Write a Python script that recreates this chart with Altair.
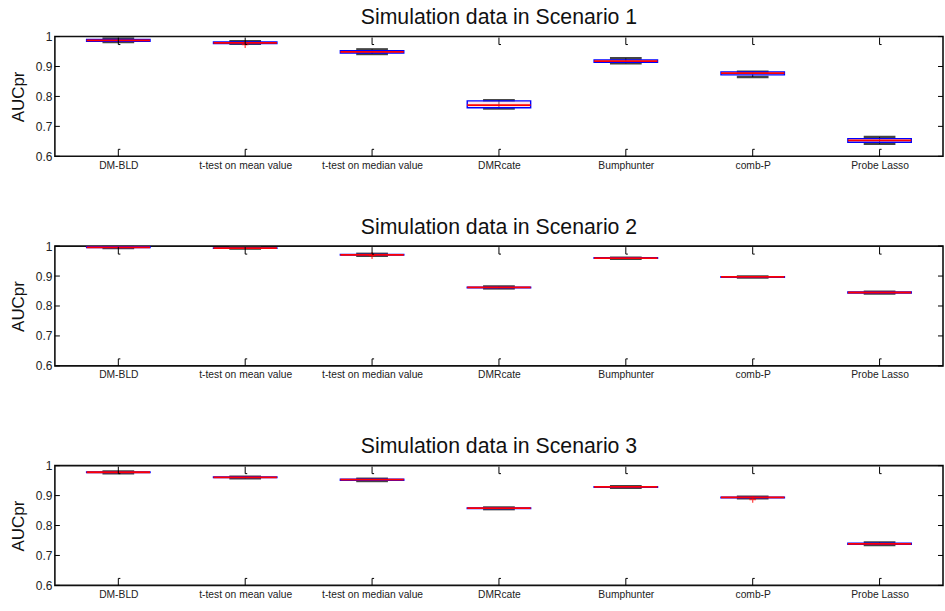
import altair as alt
import pandas as pd

methods = ["DM-BLD", "t-test on mean value", "t-test on median value", "DMRcate",
           "Bumphunter", "comb-P", "Probe Lasso"]
scenarios = ["Simulation data in Scenario 1", "Simulation data in Scenario 2",
             "Simulation data in Scenario 3"]

# Scenario 1
s1_med = [0.987, 0.979, 0.949, 0.771, 0.918, 0.878, 0.653]
s1_q1 = [0.984, 0.977, 0.945, 0.762, 0.914, 0.872, 0.647]
s1_q3 = [0.990, 0.982, 0.953, 0.785, 0.922, 0.882, 0.659]
s1_lo = [0.982, 0.976, 0.942, 0.760, 0.911, 0.865, 0.642]
s1_hi = [0.993, 0.984, 0.957, 0.787, 0.927, 0.882, 0.664]
# Scenario 2
s2_med = [0.996, 0.993, 0.971, 0.862, 0.960, 0.897, 0.845]
s2_q1 = [0.995, 0.993, 0.970, 0.861, 0.959, 0.896, 0.843]
s2_q3 = [0.998, 0.994, 0.972, 0.863, 0.961, 0.898, 0.847]
s2_lo = [0.994, 0.992, 0.968, 0.859, 0.958, 0.895, 0.842]
s2_hi = [0.998, 0.994, 0.974, 0.865, 0.961, 0.898, 0.847]
# Scenario 3
s3_med = [0.978, 0.961, 0.953, 0.858, 0.929, 0.894, 0.739]
s3_q1 = [0.977, 0.960, 0.951, 0.857, 0.928, 0.893, 0.737]
s3_q3 = [0.979, 0.962, 0.955, 0.859, 0.930, 0.895, 0.741]
s3_lo = [0.975, 0.958, 0.949, 0.855, 0.926, 0.891, 0.735]
s3_hi = [0.980, 0.963, 0.956, 0.860, 0.931, 0.896, 0.743]

# outliers: (scenario index, method index, value)
out_scn = [0, 1, 2]
out_idx = [1, 2, 5]
out_val = [0.973, 0.968, 0.887]

y_ticks = [0.6, 0.7, 0.8, 0.9, 1.0]

stats = [
    (s1_med, s1_q1, s1_q3, s1_lo, s1_hi),
    (s2_med, s2_q1, s2_q3, s2_lo, s2_hi),
    (s3_med, s3_q1, s3_q3, s3_lo, s3_hi),
]

rows = []
for si, (med, q1, q3, lo, hi) in enumerate(stats):
    for i, m in enumerate(methods):
        rows.append(dict(scn=si, idx=i, method=m, med=med[i], q1=q1[i], q3=q3[i],
                         lo=lo[i], hi=hi[i]))
box_df = pd.DataFrame(rows)
out_df = pd.DataFrame(dict(scn=out_scn, idx=out_idx, val=out_val))
tick_df = pd.DataFrame(dict(v=y_ticks))
cat_df = pd.DataFrame(dict(idx=list(range(len(methods)))))

FONT = "Liberation Sans"
W, H = 890, 120

label_expr = "[" + ",".join("'" + m + "'" for m in methods) + "][datum.value]"

xscale = alt.Scale(domain=[-0.5, len(methods) - 0.5], nice=False, zero=False)
yscale = alt.Scale(domain=[0.6, 1.0], nice=False, zero=False)

xaxis = alt.Axis(values=list(range(len(methods))), labelExpr=label_expr,
                 ticks=False, domain=False, grid=False, labelFontSize=10.3,
                 labelFont=FONT, labelColor="#222", labelPadding=4, title=None,
                 labelOverlap=False)
yaxis = alt.Axis(values=y_ticks, ticks=False, domain=False, grid=False,
                 labelFontSize=12, labelFont=FONT, labelColor="#222",
                 labelPadding=3, title="AUCpr", titleFontSize=17,
                 titleFont=FONT, titleFontWeight="normal", titleColor="#111",
                 titlePadding=8, labelOverlap=False,
                 labelExpr="datum.value == 1 ? '1' : format(datum.value, '.1f')")


def X(f):
    return alt.X(f, scale=xscale, axis=xaxis)


def Y(f):
    return alt.Y(f, scale=yscale, axis=yaxis)


def panel(si):
    base = alt.Chart(box_df).transform_filter(alt.datum.scn == si).transform_calculate(
        xl="datum.idx - 0.25", xr="datum.idx + 0.25",
        il="datum.idx - 0.125", ir="datum.idx + 0.125")

    capl = base.mark_rule(color="#444444", strokeWidth=2.6).encode(
        x=X("il:Q"), x2="ir:Q", y=Y("lo:Q"))
    caph = base.mark_rule(color="#444444", strokeWidth=2.6).encode(
        x=X("il:Q"), x2="ir:Q", y=Y("hi:Q"))
    whisk = base.mark_rule(color="black", strokeWidth=1).encode(
        x=X("idx:Q"), y=Y("lo:Q"), y2="hi:Q")
    box = base.mark_rect(fill="#ffc8c8", fillOpacity=0.45, stroke="#0000ff",
                         strokeWidth=1.4).encode(
        x=X("xl:Q"), x2="xr:Q", y=Y("q1:Q"), y2="q3:Q")
    medl = base.mark_rule(color="#ff0000", strokeWidth=1.8).encode(
        x=X("xl:Q"), x2="xr:Q", y=Y("med:Q"))
    outl = alt.Chart(out_df).transform_filter(alt.datum.scn == si).mark_point(
        shape="M-1,0L1,0M0,-1L0,1", color="#ff0000", size=45, strokeWidth=1.3,
        filled=False).encode(x=X("idx:Q"), y=Y("val:Q"))

    lt = alt.Chart(tick_df).mark_rule(color="black", strokeWidth=1).encode(
        x=alt.value(0), x2=alt.value(5), y=Y("v:Q"))
    rt = alt.Chart(tick_df).mark_rule(color="black", strokeWidth=1).encode(
        x=alt.value(W - 5), x2=alt.value(W), y=Y("v:Q"))
    cats = alt.Chart(cat_df).transform_calculate(hk="datum.idx + 0.016")
    bt = cats.mark_rule(color="black", strokeWidth=1).encode(
        x=X("idx:Q"), y=alt.value(H - 7), y2=alt.value(H))
    bth = cats.mark_rule(color="black", strokeWidth=1).encode(
        x=X("idx:Q"), x2="hk:Q", y=alt.value(H - 7))
    tt = cats.mark_rule(color="black", strokeWidth=1).encode(
        x=X("idx:Q"), y=alt.value(1), y2=alt.value(8))
    tth = cats.mark_rule(color="black", strokeWidth=1).encode(
        x=X("idx:Q"), x2="hk:Q", y=alt.value(8))

    return alt.layer(capl, caph, whisk, box, medl, outl, lt, rt, bt, bth, tt, tth).properties(
        width=W, height=H,
        view=alt.ViewBackground(stroke="#111111", strokeWidth=1.6),
        title=alt.TitleParams(scenarios[si], fontSize=21.3, fontWeight="normal",
                              font=FONT, color="#111", offset=2),
    )


chart = alt.vconcat(
    alt.vconcat(panel(0), panel(1), spacing=43),
    panel(2), spacing=53,
).properties(
    padding={"left": 8, "top": 5, "right": 0, "bottom": 0}
).configure(background="white").configure_axis(labelOverlap=False)

chart.save("out.html", embed_options={"renderer": "svg", "actions": False})
